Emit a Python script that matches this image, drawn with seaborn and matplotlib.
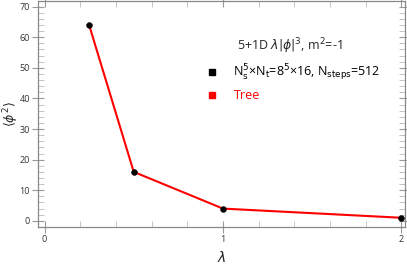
import numpy as np
import pandas as pd
import seaborn as sns
import matplotlib.pyplot as plt
from matplotlib.lines import Line2D
from matplotlib.ticker import MultipleLocator

sns.set_style("ticks")
plt.rcParams['font.family'] = ['Open Sans', 'DejaVu Sans']
plt.rcParams['mathtext.fontset'] = 'dejavusans'

lam = [0.25, 0.5, 1.0, 2.0]
phi2 = [64.0, 16.0, 4.0, 1.0]
df = pd.DataFrame({'lam': lam, 'phi2': phi2})

fig = plt.figure(figsize=(4.07, 2.67), dpi=100)
ax = fig.add_axes([0.094, 0.15, 0.901, 0.848])

sns.lineplot(x='lam', y='phi2', data=df, ax=ax, color='red', lw=1.5, zorder=2)
sns.scatterplot(x='lam', y='phi2', data=df, ax=ax, color='black', s=18,
                edgecolor='black', zorder=3)

ax.set_xlim(-0.035, 2.02)
ax.set_ylim(-2, 72)
ax.xaxis.set_major_locator(MultipleLocator(1))
ax.xaxis.set_minor_locator(MultipleLocator(0.2))
ax.yaxis.set_major_locator(MultipleLocator(10))
ax.yaxis.set_minor_locator(MultipleLocator(2))
ax.tick_params(which='major', direction='inout', length=8, width=0.8,
               color='#999999', labelsize=6.5, labelcolor='#333333',
               top=True, right=True, pad=2)
ax.tick_params(which='minor', direction='in', length=4, width=0.6,
               color='#bbbbbb', top=True, right=True)
for s in ax.spines.values():
    s.set_color('#888888')
    s.set_linewidth(0.9)

ax.set_xlabel(r'$\lambda$', fontsize=10)
ax.set_ylabel(r'$\langle\phi^2\rangle$', fontsize=9)
ax.xaxis.set_label_coords(0.5, -0.105)
ax.yaxis.set_label_coords(-0.046, 0.5)

handles = [
    Line2D([], [], marker='s', color='black', ls='none', markersize=5),
    Line2D([], [], marker='s', color='red', ls='none', markersize=5),
]
labels = [r'N$_{\rm s}^5$×N$_{\rm t}$=8$^5$×16, N$_{\rm steps}$=512', 'Tree']
leg = ax.legend(handles, labels, loc='upper right', bbox_to_anchor=(0.965, 0.89),
                title=r'5+1D $\lambda|\phi|^3$, m$^2$=-1', frameon=False,
                fontsize=9, title_fontsize=9, handletextpad=0.75,
                labelspacing=0.5, labelcolor=['black', 'red'])

fig.savefig('out.png', dpi=100)
